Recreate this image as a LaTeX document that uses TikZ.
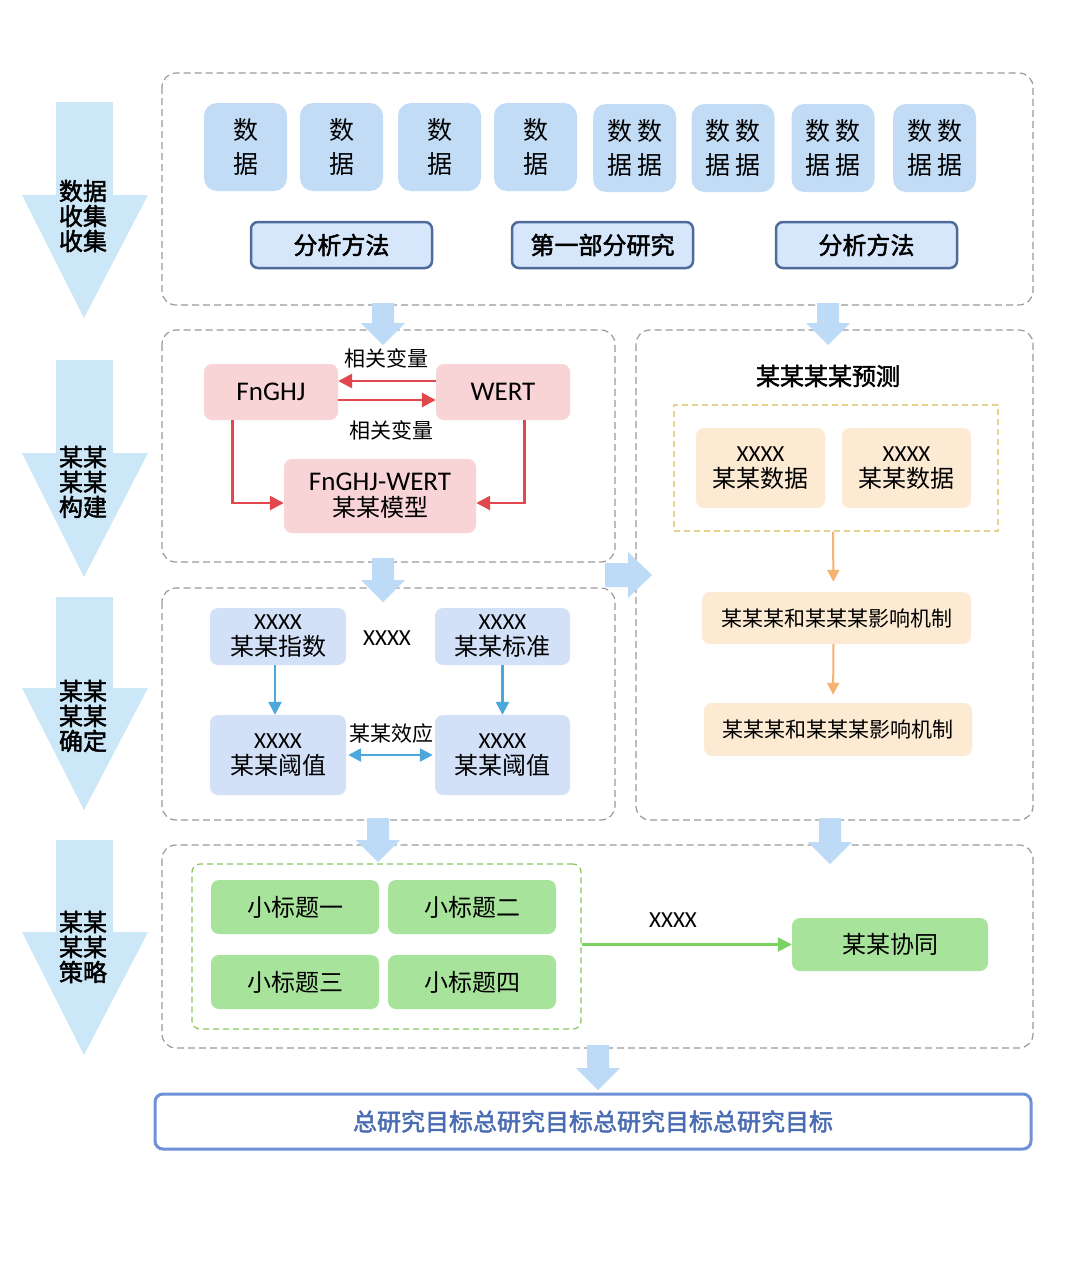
\documentclass[tikz,border=0pt]{standalone}
\usepackage{fontspec}
\setmainfont{Noto Sans CJK SC}[AutoFakeBold=2]
\newfontfamily\lat{Carlito}
\usetikzlibrary{arrows.meta,calc}
\definecolor{arrowL}{HTML}{CCE8F8}
\definecolor{datab}{HTML}{C3DCF6}
\definecolor{methfill}{HTML}{D6E7FB}
\definecolor{methborder}{HTML}{4E6B9C}
\definecolor{blk}{HTML}{BDDAF6}
\definecolor{dashgray}{HTML}{9A9A9A}
\definecolor{pinkf}{HTML}{F9D4D6}
\definecolor{redc}{HTML}{E2474E}
\definecolor{lav}{HTML}{D3E1F8}
\definecolor{bluea}{HTML}{4CA7DA}
\definecolor{peach}{HTML}{FCEAD3}
\definecolor{orangea}{HTML}{F5B36F}
\definecolor{yellowd}{HTML}{E3D38C}
\definecolor{greenf}{HTML}{A8E39C}
\definecolor{greend}{HTML}{8AC75E}
\definecolor{greena}{HTML}{79D262}
\definecolor{goalb}{HTML}{7090D8}
\definecolor{goalt}{HTML}{4B6CB2}
\newcommand{\bdown}[3]{\fill[blk] (#1-11,#2) -- (#1+11,#2) -- (#1+11,#3-22) -- (#1+22,#3-22) -- (#1,#3) -- (#1-22,#3-22) -- (#1-11,#3-22) -- cycle;}
\newcommand{\bigdown}[4]{\fill[arrowL] (56,#1) -- (113,#1) -- (113,#2) -- (148,#2) -- (84,#3) -- (22,#2) -- (56,#2) -- cycle;
  \node[stagetxt] at (83,#4)}
\tikzset{
  dashbox/.style={draw=dashgray, dash pattern=on 7pt off 4pt, line width=1.2pt, rounded corners=14pt},
  stagetxt/.style={align=center, font=\bfseries\fontsize{24}{25}\selectfont, inner sep=0pt},
  dbox/.style={fill=datab, rounded corners=13pt, minimum width=83pt, minimum height=88pt, align=center, inner sep=0pt, font=\fontsize{25}{34}\selectfont},
  mbox/.style={fill=methfill, draw=methborder, line width=2.5pt, rounded corners=7pt, minimum width=181pt, minimum height=46pt, inner sep=0pt, font=\bfseries\fontsize{24}{28}\selectfont},
  pbox/.style={fill=pinkf, rounded corners=8pt, align=center, inner sep=0pt, font=\fontsize{24}{26}\selectfont},
  lbox/.style={fill=lav, rounded corners=8pt, align=center, inner sep=0pt, font=\fontsize{24}{26}\selectfont},
  obox/.style={fill=peach, rounded corners=8pt, align=center, inner sep=0pt, font=\fontsize{24}{26}\selectfont},
  gbox/.style={fill=greenf, rounded corners=8pt, align=center, inner sep=0pt, minimum width=168pt, minimum height=54pt, font=\fontsize{24}{26}\selectfont},
  redarr/.style={draw=redc, line width=2.8pt, -{Triangle[length=14pt,width=14pt]}},
  bluearr/.style={draw=bluea, line width=2.5pt, -{Triangle[length=13pt,width=13pt]}},
  orarr/.style={draw=orangea, line width=2pt, -{Triangle[length=12pt,width=12pt]}},
  grarr/.style={draw=greena, line width=2.5pt, -{Triangle[length=14pt,width=14pt]}},
  lbl/.style={inner sep=0pt, font=\fontsize{21}{22}\selectfont}
}
\begin{document}
\begin{tikzpicture}[x=1pt,y=-1pt]
\fill[white] (0,0) rectangle (1080,1275);
\path[use as bounding box] (0,0) rectangle (1080,1275);

% stage arrows
\bigdown{102}{195}{318}{216} (s1) {数据\\收集\\收集};
\bigdown{360}{453}{577}{482} (s2) {某某\\某某\\构建};
\bigdown{597}{688}{810}{716} (s3) {某某\\某某\\确定};
\bigdown{840}{932}{1055}{947} (s4) {某某\\某某\\策略};

% containers
\draw[dashbox] (162,73) rectangle (1033,305);
\draw[dashbox] (162,330) rectangle (615,562);
\draw[dashbox] (636,330) rectangle (1033,820);
\draw[dashbox] (162,588) rectangle (615,820);
\draw[dashbox] (162,845) rectangle (1033,1048);

% block connectors
\bdown{383}{303}{345}
\bdown{828}{303}{345}
\bdown{383}{558}{602}
\bdown{378}{818}{862}
\bdown{830}{818}{864}
\bdown{598}{1045}{1090}
\fill[blk] (605,563) -- (628,563) -- (628,552) -- (652,575) -- (628,598) -- (628,587) -- (605,587) -- cycle;

% row 1
\node[dbox] (d1) at (245.5,147) {数\\据};
\node[dbox] (d2) at (341.5,147) {数\\据};
\node[dbox] (d3) at (439.5,147) {数\\据};
\node[dbox] (d4) at (535.5,147) {数\\据};
\node[dbox] (d5) at (634.5,148) {数\hspace{5pt}数\\据\hspace{5pt}据};
\node[dbox] (d6) at (733,148) {数\hspace{5pt}数\\据\hspace{5pt}据};
\node[dbox] (d7) at (833,148) {数\hspace{5pt}数\\据\hspace{5pt}据};
\node[dbox] (d8) at (934.5,148) {数\hspace{5pt}数\\据\hspace{5pt}据};
\node[mbox] (m1) at (341.5,245) {分析方法};
\node[mbox] (m2) at (602.5,245) {第一部分研究};
\node[mbox] (m3) at (866.5,245) {分析方法};

% row 2 left
\node[pbox, minimum width=134pt, minimum height=56pt] (fn) at (271,392) {\lat\fontsize{27}{28}\selectfont FnGHJ};
\node[pbox, minimum width=134pt, minimum height=56pt] (we) at (503,392) {\lat\fontsize{27}{28}\selectfont WERT};
\node[pbox, minimum width=192pt, minimum height=74pt] (mo) at (380,496) {{\lat\fontsize{27}{26}\selectfont FnGHJ-WERT}\\某某模型};
\draw[redarr] ($(we.west)+(0,-11)$) -- ($(fn.east)+(0,-11)$);
\draw[redarr] ($(fn.east)+(0,8)$) -- ($(we.west)+(0,8)$);
\node[lbl] (l1) at (386,358) {相关变量};
\node[lbl] (l2) at (391,430) {相关变量};
\draw[redarr] ($(fn.south west)+(29,0)$) |- ($(mo.west)+(0,7)$);
\draw[redarr] ($(we.south east)+(-46,0)$) |- ($(mo.east)+(0,7)$);

% row 3 left
\node[lbox, minimum width=136pt, minimum height=57pt] (a1) at (278,636.5) {{\lat\fontsize{23}{26}\selectfont XXXX}\\某某指数};
\node[lbox, minimum width=135pt, minimum height=57pt] (a2) at (502.5,636.5) {{\lat\fontsize{23}{26}\selectfont XXXX}\\某某标准};
\node[lbox, minimum width=136pt, minimum height=80pt] (b1) at (278,755) {{\lat\fontsize{23}{26}\selectfont XXXX}\\某某阈值};
\node[lbox, minimum width=135pt, minimum height=80pt] (b2) at (502.5,755) {{\lat\fontsize{23}{26}\selectfont XXXX}\\某某阈值};
\node[inner sep=0pt, font=\lat\fontsize{23}{24}\selectfont] (xm) at (387,638) {XXXX};
\node[lbl] (l3) at (391,733) {某某效应};
\draw[bluearr] ($(a1.south)+(-3,0)$) -- ($(b1.north)+(-3,0)$);
\draw[bluearr] (a2.south) -- (b2.north);
\draw[bluearr, {Triangle[length=13pt,width=13pt]}-{Triangle[length=13pt,width=13pt]}] ($(b1.east)+(2,0)$) -- ($(b2.west)+(-2,0)$);

% right column
\node[inner sep=0pt, font=\bfseries\fontsize{24}{26}\selectfont] (ti) at (828,376) {某某某某预测};
\node[draw=yellowd, dash pattern=on 6pt off 4pt, line width=1.2pt, minimum width=324pt, minimum height=126pt, inner sep=0pt] (yb) at (836,468) {};
\node[obox, minimum width=129pt, minimum height=80pt] (o1) at (760.5,468) {{\lat\fontsize{23}{26}\selectfont XXXX}\\某某数据};
\node[obox, minimum width=129pt, minimum height=80pt] (o2) at (906.5,468) {{\lat\fontsize{23}{26}\selectfont XXXX}\\某某数据};
\node[obox, minimum width=269pt, minimum height=52pt, font=\fontsize{21}{22}\selectfont] (k1) at (836.5,618) {某某某和某某某影响机制};
\node[obox, minimum width=268pt, minimum height=53pt, font=\fontsize{21}{22}\selectfont] (k2) at (838,729.5) {某某某和某某某影响机制};
\draw[orarr, shorten >=10pt] ($(yb.south)+(-3,0)$) -- ($(k1.north)+(-3,0)$);
\draw[orarr, shorten >=8pt] ($(k1.south)+(-3,0)$) -- ($(k2.north)+(-5,0)$);

% row 4
\node[draw=greend, dash pattern=on 6pt off 4pt, line width=1.2pt, rounded corners=8pt, minimum width=389pt, minimum height=165pt, inner sep=0pt] (gg) at (386.5,946.5) {};
\node[gbox] (g1) at (295,907) {小标题一};
\node[gbox] (g2) at (472,907) {小标题二};
\node[gbox] (g3) at (295,982) {小标题三};
\node[gbox] (g4) at (472,982) {小标题四};
\node[gbox, minimum width=196pt, minimum height=53pt] (xt) at (890,944.5) {某某协同};
\draw[grarr] (gg.east |- xt.west) -- (xt.west);
\node[inner sep=0pt, font=\lat\fontsize{23}{24}\selectfont] (xg) at (673,920) {XXXX};

% goal
\node[draw=goalb, line width=3pt, fill=white, rounded corners=8pt, minimum width=876pt, minimum height=55pt, inner sep=0pt, text=goalt, font=\bfseries\fontsize{24}{26}\selectfont] (goal) at (593,1121.5) {总研究目标总研究目标总研究目标总研究目标};
\end{tikzpicture}
\end{document}
